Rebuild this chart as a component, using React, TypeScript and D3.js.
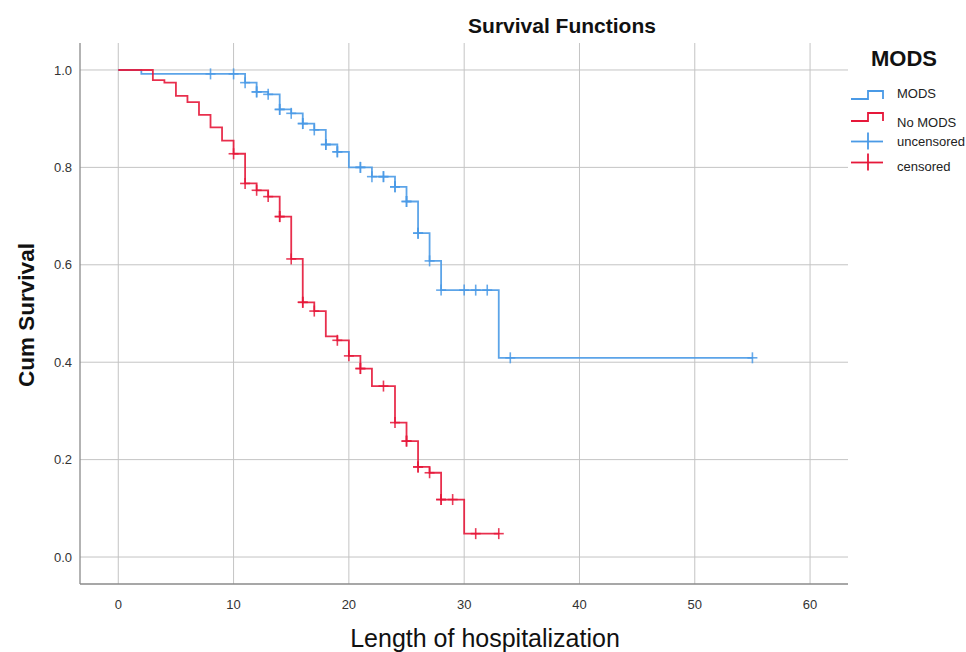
import React from "react";
import * as d3 from "d3";

const xTicks = [0, 10, 20, 30, 40, 50, 60];
const yTicks = [0.0, 0.2, 0.4, 0.6, 0.8, 1.0];

const modsTimes = [0, 2, 11, 12, 13, 14, 15, 16, 17, 18, 19, 20, 22, 24, 25, 26, 27, 28, 33];
const modsSurv = [1.0, 0.992, 0.974, 0.955, 0.95, 0.919, 0.911, 0.89, 0.877, 0.847, 0.832, 0.8, 0.781, 0.76, 0.73, 0.665, 0.608, 0.548, 0.409];
const modsEnd = 55;
const modsCensor = [8, 10, 11, 12, 12, 13, 14, 14, 15, 16, 16, 17, 18, 18, 19, 19, 21, 21, 22, 23, 23, 24, 24, 25, 25, 26, 26, 27, 28, 30, 31, 32, 34, 55];

const noTimes = [0, 3, 4, 5, 6, 7, 8, 9, 10, 11, 12, 13, 14, 15, 16, 17, 18, 19, 20, 21, 22, 24, 25, 26, 27, 28, 30];
const noSurv = [1.0, 0.979, 0.974, 0.947, 0.934, 0.908, 0.882, 0.855, 0.828, 0.767, 0.753, 0.74, 0.699, 0.612, 0.523, 0.505, 0.453, 0.445, 0.413, 0.387, 0.351, 0.276, 0.238, 0.185, 0.173, 0.118, 0.048];
const noEnd = 33;
const noCensor = [10, 11, 12, 13, 14, 14, 15, 16, 16, 17, 19, 20, 21, 21, 23, 24, 25, 25, 26, 26, 27, 28, 28, 29, 31, 33];

const groups = ["MODS", "No MODS"];
const markLabels = ["uncensored", "censored"];

const BLUE = "#4a9ae6";
const RED = "#e6183a";
const FONT = "'Liberation Sans', Arial, sans-serif";

const W = 966;
const H = 652;
const L = 80, R = 848, T = 43, B = 584;

function survAt(times: number[], surv: number[], t: number) {
  let v = surv[0];
  for (let i = 0; i < times.length; i++) if (times[i] <= t) v = surv[i];
  return v;
}

export default function App() {
  const x = d3.scaleLinear().domain([-3.32, 63.29]).range([L, R]);
  const y = d3.scaleLinear().domain([-0.0554, 1.0554]).range([B, T]);
  const line = d3
    .line<[number, number]>()
    .x((d) => x(d[0]))
    .y((d) => y(d[1]))
    .curve(d3.curveStepAfter);

  const series = [
    { times: modsTimes, surv: modsSurv, end: modsEnd, censor: modsCensor, color: BLUE },
    { times: noTimes, surv: noSurv, end: noEnd, censor: noCensor, color: RED },
  ];

  return (
    <svg width={W} height={H} style={{ position: "absolute", left: 0, top: 0, background: "#fff" }} fontFamily={FONT}>
      <rect x={0} y={0} width={W} height={H} fill="#fff" />
      {/* grid */}
      {yTicks.map((t) => (
        <line key={"gy" + t} x1={L} x2={R} y1={y(t)} y2={y(t)} stroke="#c4c4c4" strokeWidth={1} />
      ))}
      {xTicks.map((t) => (
        <line key={"gx" + t} x1={x(t)} x2={x(t)} y1={T} y2={B} stroke="#c4c4c4" strokeWidth={1} />
      ))}
      {/* axes */}
      <line x1={L} x2={L} y1={T} y2={B} stroke="#8a8a8a" strokeWidth={1.3} />
      <line x1={L} x2={R} y1={B} y2={B} stroke="#8a8a8a" strokeWidth={1.3} />
      {yTicks.map((t) => (
        <text key={"ty" + t} x={72} y={y(t)} dy="0.35em" textAnchor="end" fontSize={13} fill="#333">
          {t.toFixed(1)}
        </text>
      ))}
      {xTicks.map((t) => (
        <text key={"tx" + t} x={x(t)} y={609} textAnchor="middle" fontSize={13} fill="#333">
          {t}
        </text>
      ))}
      {/* curves */}
      {series.map((s, i) => {
        const pts: [number, number][] = s.times.map((t, j) => [t, s.surv[j]] as [number, number]);
        pts.push([s.end, s.surv[s.surv.length - 1]]);
        return (
          <g key={"s" + i}>
            <path d={line(pts) || ""} fill="none" stroke={s.color} strokeWidth={1.8} strokeOpacity={0.9} />
            {s.censor.map((c, k) => {
              const cx = x(c);
              const cy = y(survAt(s.times, s.surv, c));
              return (
                <g key={k} stroke={s.color} strokeWidth={1.6} strokeOpacity={0.85}>
                  <line x1={cx} x2={cx} y1={cy - 5.5} y2={cy + 5.5} />
                  <line x1={cx - 5} x2={cx + 5} y1={cy} y2={cy} />
                </g>
              );
            })}
          </g>
        );
      })}
      {/* titles */}
      <text x={562} y={33} textAnchor="middle" fontSize={21} fontWeight="bold" fill="#111">
        Survival Functions
      </text>
      <text transform={`translate(34,${315}) rotate(-90)`} textAnchor="middle" fontSize={22.5} fontWeight="bold" fill="#111">
        Cum Survival
      </text>
      <text x={485} y={647} textAnchor="middle" fontSize={25} fill="#111">
        Length of hospitalization
      </text>
      {/* legend */}
      <text x={904} y={66} textAnchor="middle" fontSize={22} fontWeight="bold" fill="#111">
        MODS
      </text>
      {groups.map((g, i) => {
        const yl = i === 0 ? 99 : 121;
        const yh = i === 0 ? 91 : 113;
        const c = i === 0 ? BLUE : RED;
        return (
          <g key={"lg" + g}>
            <path d={`M851,${yl}H868V${yh}H883V${yl}`} fill="none" stroke={c} strokeWidth={1.8} />
            <text x={897} y={i === 0 ? 93 : 122} dy="0.35em" fontSize={13} fill="#222">
              {g}
            </text>
          </g>
        );
      })}
      {markLabels.map((m, i) => {
        const cy = i === 0 ? 141.5 : 162.5;
        const c = i === 0 ? BLUE : RED;
        return (
          <g key={"lm" + m}>
            <line x1={851} x2={883} y1={cy} y2={cy} stroke={c} strokeWidth={1.8} />
            <line x1={868} x2={868} y1={cy - 9} y2={cy + 8} stroke={c} strokeWidth={1.8} />
            <text x={897} y={i === 0 ? 141.5 : 166.5} dy="0.35em" fontSize={13} fill="#222">
              {m}
            </text>
          </g>
        );
      })}
    </svg>
  );
}
